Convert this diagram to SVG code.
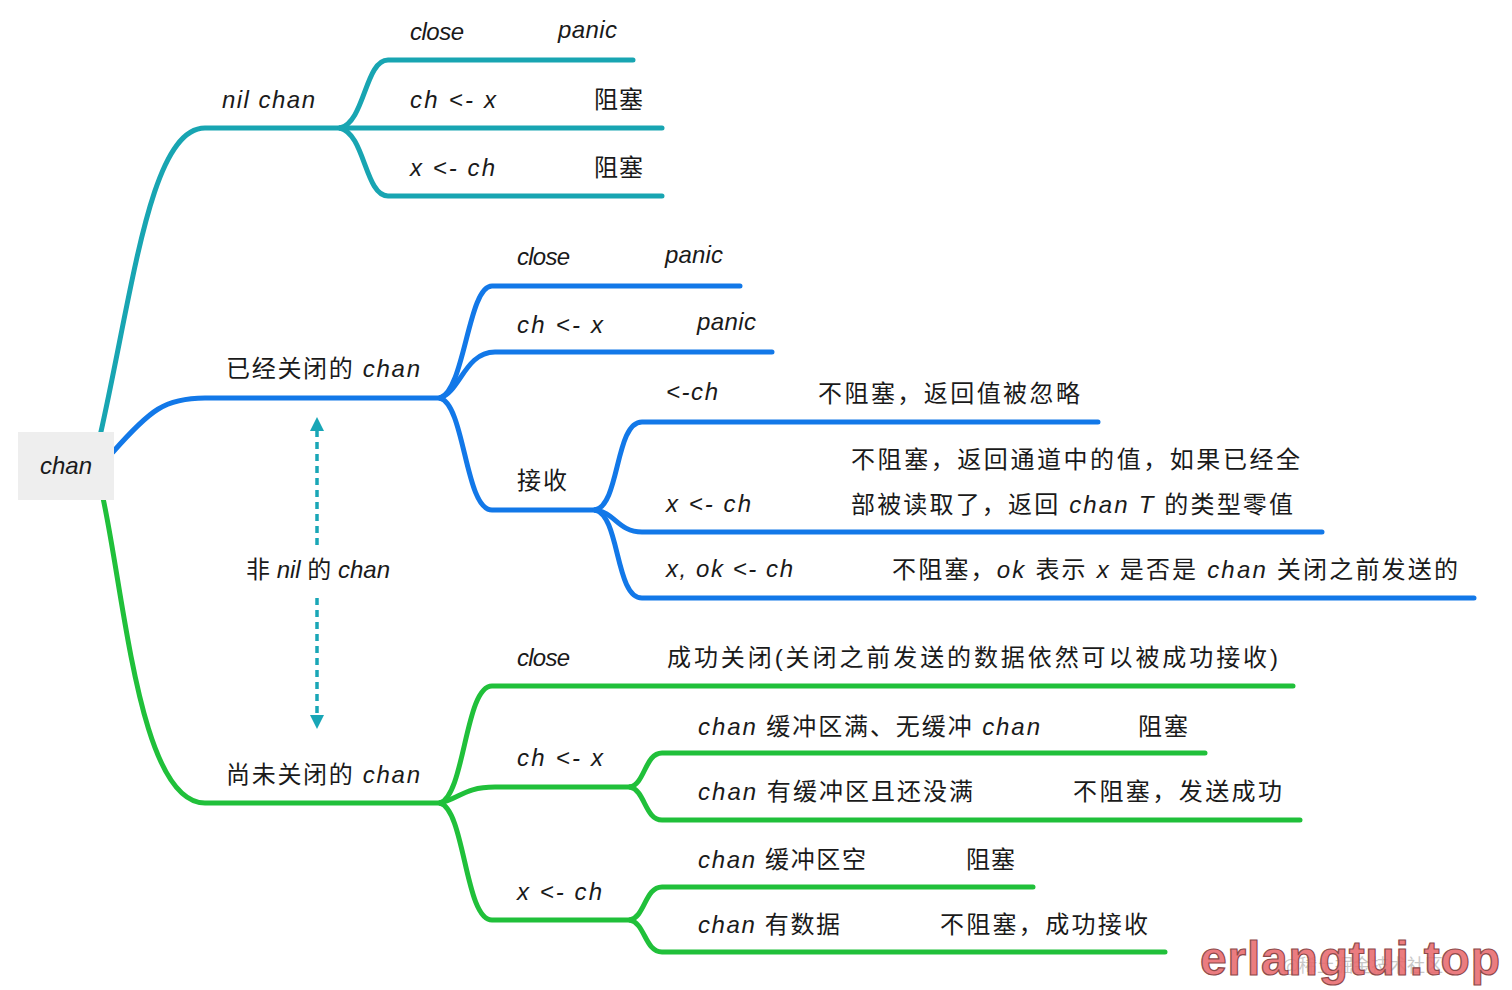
<svg xmlns="http://www.w3.org/2000/svg" width="1512" height="990" viewBox="0 0 1512 990">
<style>
  .t{font-family:"Liberation Sans","Noto Sans CJK SC",sans-serif;font-size:24px;fill:#1a1a1a}
  .l{font-style:italic}
  .c{fill:none;stroke-width:5;stroke-linecap:round;stroke-linejoin:round}
  .teal{stroke:#18a5b2}
  .blue{stroke:#1278e8}
  .green{stroke:#20c03a}
  .dash{fill:none;stroke:#19a6b6;stroke-width:3.5;stroke-dasharray:7 5}
</style>
<defs>
  <marker id="ah" viewBox="0 0 10 10" refX="5" refY="5" markerWidth="4" markerHeight="4" orient="auto-start-reverse">
    <path d="M0,0 L10,5 L0,10 z" fill="#19a6b6"/>
  </marker>
</defs>
<rect width="1512" height="990" fill="#ffffff"/>

<g id="connectors">
  <path class="c teal" d="M100,436 C133,290 150,128 205,128 L340,128"/>
  <path class="c teal" d="M340,128 C365,122 365,60 388,60 L633,60"/>
  <path class="c teal" d="M340,128 L662,128"/>
  <path class="c teal" d="M340,128 C365,134 365,196 388,196 L662,196"/>

  <path class="c blue" d="M113,452 C150,410 165,398 205,398 L440,398"/>
  <path class="c blue" d="M440,398 C465,390 468,286 492,286 L740,286"/>
  <path class="c blue" d="M440,398 C460,392 465,352 495,352 L772,352"/>
  <path class="c blue" d="M440,398 C465,405 465,510 492,510 L595,510"/>
  <path class="c blue" d="M595,510 C620,505 615,422 642,422 L1098,422"/>
  <path class="c blue" d="M595,510 C615,512 618,532 642,532 L1322,532"/>
  <path class="c blue" d="M595,510 C620,515 615,598 642,598 L1474,598"/>

  <path class="c green" d="M103,498 C125,600 140,803 205,803 L440,803"/>
  <path class="c green" d="M440,803 C465,795 465,686 492,686 L1293,686"/>
  <path class="c green" d="M440,803 C460,798 465,787 495,787 L630,787"/>
  <path class="c green" d="M440,803 C465,810 465,920 492,920 L630,920"/>
  <path class="c green" d="M630,787 C645,784 645,753 662,753 L1205,753"/>
  <path class="c green" d="M630,787 C645,790 645,820 662,820 L1300,820"/>
  <path class="c green" d="M630,920 C645,917 645,887 662,887 L1033,887"/>
  <path class="c green" d="M630,920 C645,923 645,952 662,952 L1165,952"/>

  <path class="dash" d="M317,545 L317,424" marker-end="url(#ah)"/>
  <path class="dash" d="M317,598 L317,722" marker-end="url(#ah)"/>
</g>

<g id="root">
  <rect x="18" y="432" width="96" height="68" fill="#eeeeee"/>
  <text class="t l" x="40" y="474" textLength="52" font-size="25">chan</text>
</g>

<g id="nil-chan">
  <text class="t l" x="222" y="108" textLength="93">nil chan</text>
  <g id="nil-close"><text class="t l" x="410" y="40" textLength="54">close</text><text class="t l" x="558" y="38" textLength="59">panic</text></g>
  <g id="nil-send"><text class="t l" x="410" y="108" textLength="86">ch &lt;- x</text><text class="t" x="594" y="108" textLength="49">阻塞</text></g>
  <g id="nil-recv"><text class="t l" x="410" y="176" textLength="85">x &lt;- ch</text><text class="t" x="594" y="176" textLength="49">阻塞</text></g>
</g>

<g id="closed-chan">
  <text class="t" x="226" y="377" textLength="194">已经关闭的 <tspan class="l">chan</tspan></text>
  <g id="closed-close"><text class="t l" x="517" y="265" textLength="53">close</text><text class="t l" x="665" y="263" textLength="58">panic</text></g>
  <g id="closed-send"><text class="t l" x="517" y="333" textLength="86">ch &lt;- x</text><text class="t l" x="697" y="330" textLength="59">panic</text></g>
  <g id="closed-recv">
    <text class="t" x="517" y="489" textLength="50">接收</text>
    <g id="closed-recv-1"><text class="t l" x="666" y="400" textLength="52">&lt;-ch</text><text class="t" x="818" y="402" textLength="262">不阻塞，返回值被忽略</text></g>
    <g id="closed-recv-2"><text class="t l" x="666" y="512" textLength="85">x &lt;- ch</text>
      <text class="t" x="851" y="468" textLength="449">不阻塞，返回通道中的值，如果已经全</text>
      <text class="t" x="851" y="513" textLength="442">部被读取了，返回 <tspan class="l">chan T</tspan> 的类型零值</text></g>
    <g id="closed-recv-3"><text class="t l" x="666" y="577" textLength="127">x, ok &lt;- ch</text>
      <text class="t" x="892" y="578" textLength="566">不阻塞，<tspan class="l">ok</tspan> 表示 <tspan class="l">x</tspan> 是否是 <tspan class="l">chan</tspan> 关闭之前发送的</text></g>
  </g>
</g>

<g id="non-nil-label">
  <text class="t" x="246" y="578" textLength="144" font-size="21">非 <tspan class="l">nil</tspan> 的 <tspan class="l">chan</tspan></text>
</g>

<g id="open-chan">
  <text class="t" x="226" y="783" textLength="194">尚未关闭的 <tspan class="l">chan</tspan></text>
  <g id="open-close"><text class="t l" x="517" y="666" textLength="53">close</text><text class="t" x="667" y="666" textLength="611">成功关闭(关闭之前发送的数据依然可以被成功接收)</text></g>
  <g id="open-send">
    <text class="t l" x="517" y="766" textLength="86">ch &lt;- x</text>
    <g id="open-send-1"><text class="t" x="698" y="735" textLength="342"><tspan class="l">chan</tspan> 缓冲区满、无缓冲 <tspan class="l">chan</tspan></text><text class="t" x="1138" y="735" textLength="50">阻塞</text></g>
    <g id="open-send-2"><text class="t" x="698" y="800" textLength="275"><tspan class="l">chan</tspan> 有缓冲区且还没满</text><text class="t" x="1073" y="800" textLength="209">不阻塞，发送成功</text></g>
  </g>
  <g id="open-recv">
    <text class="t l" x="517" y="900" textLength="85">x &lt;- ch</text>
    <g id="open-recv-1"><text class="t" x="698" y="868" textLength="168"><tspan class="l">chan</tspan> 缓冲区空</text><text class="t" x="966" y="868" textLength="49">阻塞</text></g>
    <g id="open-recv-2"><text class="t" x="698" y="933" textLength="142"><tspan class="l">chan</tspan> 有数据</text><text class="t" x="940" y="933" textLength="208">不阻塞，成功接收</text></g>
  </g>
</g>

<g id="watermark">
  <text x="1282" y="972" font-family="Noto Sans CJK SC, sans-serif" font-size="18" fill="#c8c8c8">@稀土掘金技术社区</text>
  <text x="1200" y="975" font-family="Liberation Sans, Arial, sans-serif" font-weight="bold" font-size="48" textLength="300" fill="#e96a6e" fill-opacity="0.9" stroke="#8e4a4a" stroke-width="1.2">erlangtui.top</text>
</g>
</svg>
